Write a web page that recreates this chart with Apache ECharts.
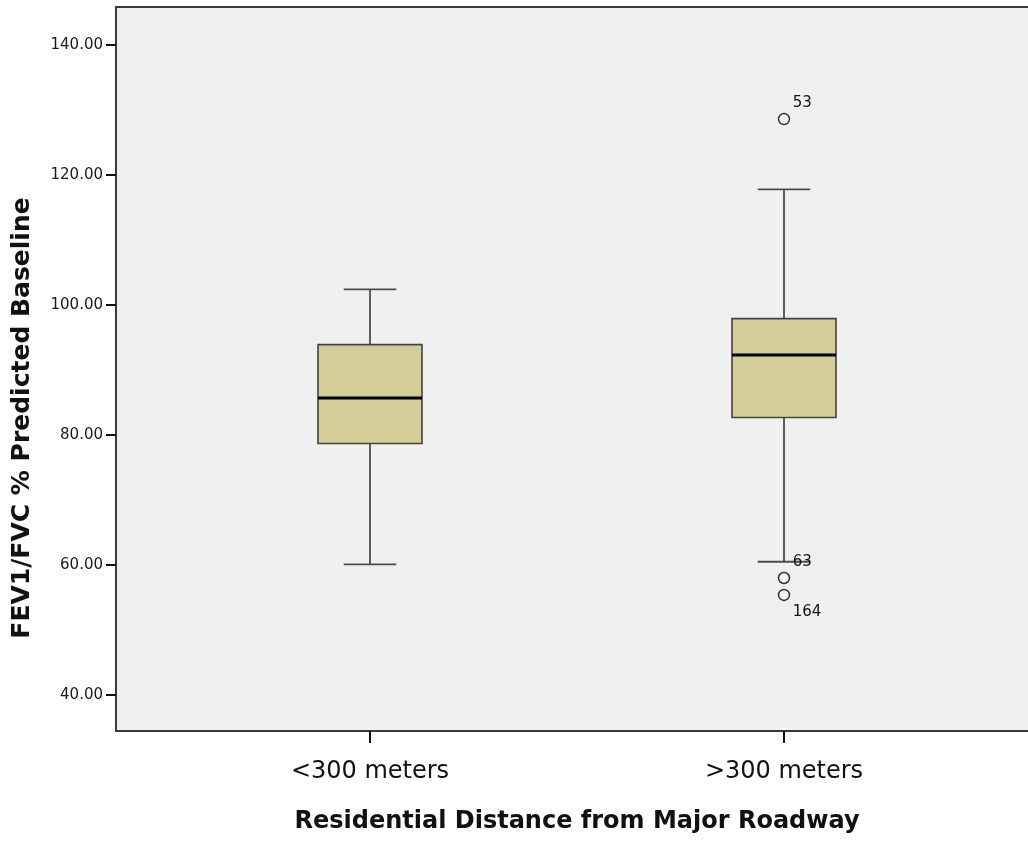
<!DOCTYPE html>
<html>
<head>
<meta charset="utf-8">
<script src="https://cdn.jsdelivr.net/npm/echarts@6/dist/echarts.min.js"></script>
<style>
  html, body { margin: 0; padding: 0; background: #ffffff; }
  #chart { width: 1028px; height: 842px; }
</style>
</head>
<body>
<div id="chart"></div>
<script>
// ---- data ----
const categories = ['<300 meters', '>300 meters'];
const whiskerLow = [60.1, 60.5];
const q1 = [78.7, 82.7];
const medians = [85.7, 92.3];
const q3 = [93.9, 97.9];
const whiskerHigh = [102.4, 117.8];
const outlierCategory = [1, 1, 1];
const outlierValues = [128.6, 58.0, 55.4];
const outlierIds = ['53', '63', '164'];
const yTicks = [40, 60, 80, 100, 120, 140];
const yTitle = 'FEV1/FVC % Predicted Baseline';
const xTitle = 'Residential Distance from Major Roadway';

// ---- styling ----
const FONT = 'DejaVu Sans';
const Y_MIN = 34.46, Y_MAX = 145.85;
const labelPlacement = { '53': [15, -10], '63': [15, -10], '164': [15, 23] };

const chart = echarts.init(document.getElementById('chart'), null, { renderer: 'canvas' });

const boxData = categories.map((c, i) => [i, whiskerLow[i], q1[i], medians[i], q3[i], whiskerHigh[i]]);
const outlierData = outlierValues.map((v, i) => ({
  value: [outlierCategory[i], v],
  name: outlierIds[i],
  label: { position: labelPlacement[outlierIds[i]] }
}));

function renderBox(params, api) {
  const x = api.value(0);
  const pLow = api.coord([x, api.value(1)]);
  const pQ1 = api.coord([x, api.value(2)]);
  const pMed = api.coord([x, api.value(3)]);
  const pQ3 = api.coord([x, api.value(4)]);
  const pHigh = api.coord([x, api.value(5)]);
  const band = api.size([1, 0])[0];
  const boxHalf = band * 0.1256;
  const capHalf = band * 0.0635;
  const cx = Math.round(pMed[0]);
  const whisk = { stroke: '#4d4d4d', lineWidth: 1.8 };
  return {
    type: 'group',
    children: [
      { type: 'line', shape: { x1: cx, y1: pHigh[1], x2: cx, y2: pQ3[1] }, style: whisk },
      { type: 'line', shape: { x1: cx, y1: pQ1[1], x2: cx, y2: pLow[1] }, style: whisk },
      { type: 'line', shape: { x1: cx - capHalf, y1: pHigh[1], x2: cx + capHalf, y2: pHigh[1] }, style: whisk },
      { type: 'line', shape: { x1: cx - capHalf, y1: pLow[1], x2: cx + capHalf, y2: pLow[1] }, style: whisk },
      { type: 'rect', shape: { x: cx - boxHalf, y: pQ3[1], width: boxHalf * 2, height: pQ1[1] - pQ3[1] },
        style: { fill: '#D3CE98', stroke: '#444444', lineWidth: 1.6 } },
      { type: 'line', shape: { x1: cx - boxHalf, y1: pMed[1], x2: cx + boxHalf, y2: pMed[1] },
        style: { stroke: '#000000', lineWidth: 3 } }
    ]
  };
}

const frameLine = { show: true, lineStyle: { color: '#3a3a3a', width: 2 } };

const option = {
  animation: false,
  backgroundColor: '#ffffff',
  grid: [
    { left: 116, top: 7, right: 0, bottom: 111, show: true, backgroundColor: '#F0F0F0', borderWidth: 0 },
    { left: 163, top: 7, right: 37, bottom: 111 }
  ],
  xAxis: [
    { gridIndex: 0, type: 'value', min: 0, max: 1, position: 'bottom',
      axisLine: frameLine, axisTick: { show: false }, axisLabel: { show: false }, splitLine: { show: false } },
    { gridIndex: 1, type: 'category', data: categories, boundaryGap: true,
      axisLine: { show: false },
      axisTick: { show: true, alignWithLabel: true, length: 12, lineStyle: { color: '#111', width: 2 } },
      axisLabel: { margin: 29, fontFamily: FONT, fontSize: 24, color: '#111' },
      splitLine: { show: false } },
    { gridIndex: 0, type: 'value', min: 0, max: 1, position: 'top',
      axisLine: frameLine, axisTick: { show: false }, axisLabel: { show: false }, splitLine: { show: false } }
  ],
  yAxis: [
    { gridIndex: 0, type: 'value', min: Y_MIN, max: Y_MAX,
      axisLine: frameLine,
      axisTick: { show: true, customValues: yTicks, length: 10, lineStyle: { color: '#111', width: 2 } },
      axisLabel: { customValues: yTicks, margin: 13, fontFamily: FONT, fontSize: 15, color: '#1a1a1a',
        formatter: v => Number(v).toFixed(2) },
      splitLine: { show: false } },
    { gridIndex: 1, type: 'value', min: Y_MIN, max: Y_MAX, show: false, splitLine: { show: false } }
  ],
  series: [
    { type: 'custom', xAxisIndex: 1, yAxisIndex: 1, renderItem: renderBox,
      encode: { x: 0, y: [1, 2, 3, 4, 5] }, data: boxData, z: 3 },
    { type: 'scatter', xAxisIndex: 1, yAxisIndex: 1, symbol: 'circle', symbolSize: 11,
      itemStyle: { color: 'rgba(0,0,0,0)', borderColor: '#333', borderWidth: 1.5, opacity: 1 },
      label: { show: true, formatter: p => p.name, fontFamily: FONT, fontSize: 15, color: '#111',
        align: 'left', verticalAlign: 'middle' },
      emphasis: { disabled: true },
      data: outlierData, z: 4 }
  ],
  graphic: [
    { type: 'text', x: 22, y: 418, rotation: Math.PI / 2,
      style: { text: yTitle, font: 'bold 25px "DejaVu Sans"', fill: '#111', align: 'center', verticalAlign: 'middle' } },
    { type: 'text', x: 577, y: 822,
      style: { text: xTitle, font: 'bold 24px "DejaVu Sans"', fill: '#111', align: 'center', verticalAlign: 'middle' } }
  ]
};
chart.setOption(option);
</script>
</body>
</html>
